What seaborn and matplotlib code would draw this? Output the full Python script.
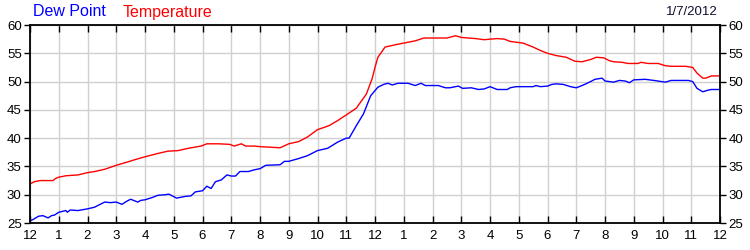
import matplotlib
matplotlib.use("Agg")
import matplotlib.pyplot as plt
import seaborn as sns
import pandas as pd

temp_hours = [0, 0.15, 0.35, 0.8, 0.9, 1.0, 1.25, 1.67, 2.0, 2.25, 2.6, 3.0, 3.4, 3.65, 4.0,
              4.45, 4.8, 5.15, 5.5, 5.95, 6.15, 6.55, 6.95, 7.1, 7.35, 7.5, 7.8, 8.0, 8.7,
              9.0, 9.35, 9.65, 10.0, 10.4, 10.7, 11.0, 11.35, 11.7, 11.9, 12.0, 12.1, 12.35,
              12.7, 13.0, 13.4, 13.7, 14.5, 14.8, 15.0, 15.5, 15.8, 16.0, 16.25, 16.5, 16.7,
              17.0, 17.15, 17.5, 17.75, 18.0, 18.3, 18.65, 18.95, 19.2, 19.5, 19.7, 19.95,
              20.15, 20.3, 20.6, 20.8, 21.15, 21.25, 21.5, 21.85, 22.1, 22.3, 22.8, 23.05,
              23.2, 23.4, 23.5, 23.7, 24.0]
temp_values = [31.9, 32.3, 32.5, 32.5, 32.9, 33.1, 33.35, 33.5, 33.9, 34.1, 34.5, 35.2, 35.8, 36.2, 36.7,
               37.3, 37.7, 37.8, 38.2, 38.6, 39.0, 39.0, 38.9, 38.6, 39.0, 38.6, 38.6, 38.5, 38.3,
               39.0, 39.4, 40.2, 41.5, 42.2, 43.1, 44.1, 45.3, 47.8, 50.5, 52.5, 54.3, 56.1,
               56.5, 56.8, 57.2, 57.7, 57.7, 58.1, 57.8, 57.6, 57.4, 57.5, 57.6, 57.5, 57.1,
               56.9, 56.8, 56.1, 55.5, 55.0, 54.6, 54.3, 53.6, 53.5, 53.9, 54.3, 54.2,
               53.7, 53.5, 53.4, 53.2, 53.2, 53.4, 53.2, 53.2, 52.8, 52.7, 52.7, 52.5,
               51.5, 50.6, 50.6, 51.0, 51.0]

dew_hours = [0, 0.1, 0.3, 0.45, 0.63, 0.75, 0.85, 1.0, 1.25, 1.3, 1.4, 1.67, 2.0, 2.25, 2.4, 2.6,
             2.8, 3.0, 3.2, 3.35, 3.5, 3.75, 3.85, 4.0, 4.25, 4.45, 4.7, 4.83, 5.1, 5.4, 5.6,
             5.75, 6.0, 6.15, 6.3, 6.45, 6.65, 6.85, 7.0, 7.15, 7.3, 7.6, 7.8, 7.9, 8.0, 8.2,
             8.7, 8.85, 9.0, 9.35, 9.65, 10.0, 10.35, 10.7, 11.0, 11.1, 11.35, 11.6, 11.85,
             12.0, 12.1, 12.3, 12.45, 12.6, 12.8, 13.15, 13.4, 13.6, 13.75, 14.2, 14.45, 14.6,
             14.9, 15.05, 15.35, 15.6, 15.8, 16.0, 16.25, 16.6, 16.7, 16.9, 17.5, 17.6, 17.75,
             18.0, 18.15, 18.3, 18.55, 18.8, 19.0, 19.25, 19.5, 19.65, 19.9, 20.0, 20.3, 20.5,
             20.7, 20.85, 21.0, 21.4, 21.7, 22.1, 22.3, 22.9, 23.05, 23.2, 23.4, 23.6, 23.7, 24.0]
dew_values = [25.4, 25.6, 26.2, 26.3, 25.9, 26.3, 26.4, 26.9, 27.2, 26.9, 27.3, 27.2, 27.5, 27.8, 28.2, 28.7,
              28.6, 28.7, 28.3, 28.8, 29.2, 28.7, 29.0, 29.1, 29.5, 29.9, 30.0, 30.1, 29.4, 29.7, 29.8,
              30.5, 30.7, 31.5, 31.1, 32.3, 32.6, 33.5, 33.3, 33.3, 34.1, 34.1, 34.4, 34.5, 34.6, 35.2,
              35.3, 35.9, 35.9, 36.4, 36.9, 37.8, 38.2, 39.3, 40.0, 40.0, 42.2, 44.3, 47.5,
              48.4, 49.0, 49.5, 49.7, 49.4, 49.7, 49.7, 49.3, 49.7, 49.3, 49.3, 48.9, 48.9,
              49.2, 48.8, 48.9, 48.6, 48.7, 49.1, 48.6, 48.6, 48.9, 49.1, 49.1, 49.3, 49.1,
              49.2, 49.5, 49.6, 49.5, 49.1, 48.9, 49.4, 50.0, 50.4, 50.6, 50.1, 49.9, 50.2,
              50.1, 49.8, 50.3, 50.4, 50.2, 49.9, 50.2, 50.2, 50.0, 48.8, 48.2, 48.5, 48.6, 48.6]

x_tick_labels = ["12", "1", "2", "3", "4", "5", "6", "7", "8", "9", "10", "11",
                 "12", "1", "2", "3", "4", "5", "6", "7", "8", "9", "10", "11", "12"]
y_ticks = [25, 30, 35, 40, 45, 50, 55, 60]
date_text = "1/7/2012"

sns.set_style("white")
plt.rcParams["font.family"] = ["Liberation Sans", "DejaVu Sans"]

fig = plt.figure(figsize=(7.5, 2.5), dpi=100)
ax = fig.add_axes([0.04, 0.108, 0.92, 0.792])

df_t = pd.DataFrame({"hour": temp_hours, "value": temp_values})
df_d = pd.DataFrame({"hour": dew_hours, "value": dew_values})
sns.lineplot(data=df_t, x="hour", y="value", color="#ff0000", linewidth=1.0, ax=ax)
sns.lineplot(data=df_d, x="hour", y="value", color="#0000ff", linewidth=1.0, ax=ax)

ax.set_xlim(0, 24)
ax.set_ylim(25, 60)
ax.set_xticks(range(25))
ax.set_xticklabels(x_tick_labels)
ax.set_yticks(y_ticks)
ax.set_xlabel("")
ax.set_ylabel("")
ax.grid(True, color="#d0d0d0", linewidth=1.0)
ax.set_axisbelow(True)
for s in ax.spines.values():
    s.set_color("black")
    s.set_linewidth(1.3)

ax.tick_params(axis="x", direction="in", length=5, width=1, top=True, bottom=True,
               labelsize=9.5, pad=5, colors="black")
ax.tick_params(axis="y", direction="out", length=4, width=1, left=True, right=True,
               labelleft=True, labelright=True, labelsize=9.5, pad=2, colors="black")

fig.text(33 / 750, 1 - 12 / 250, "Dew Point", color="#0000ff", fontsize=11.5, va="center", ha="left")
fig.text(123 / 750, 1 - 12 / 250, "Temperature", color="#ff0000", fontsize=11.5, va="center", ha="left")
fig.text(718 / 750, 1 - 12 / 250, date_text, color="#101030", fontsize=9.5, va="center", ha="right")

fig.savefig("out.png", dpi=100)
